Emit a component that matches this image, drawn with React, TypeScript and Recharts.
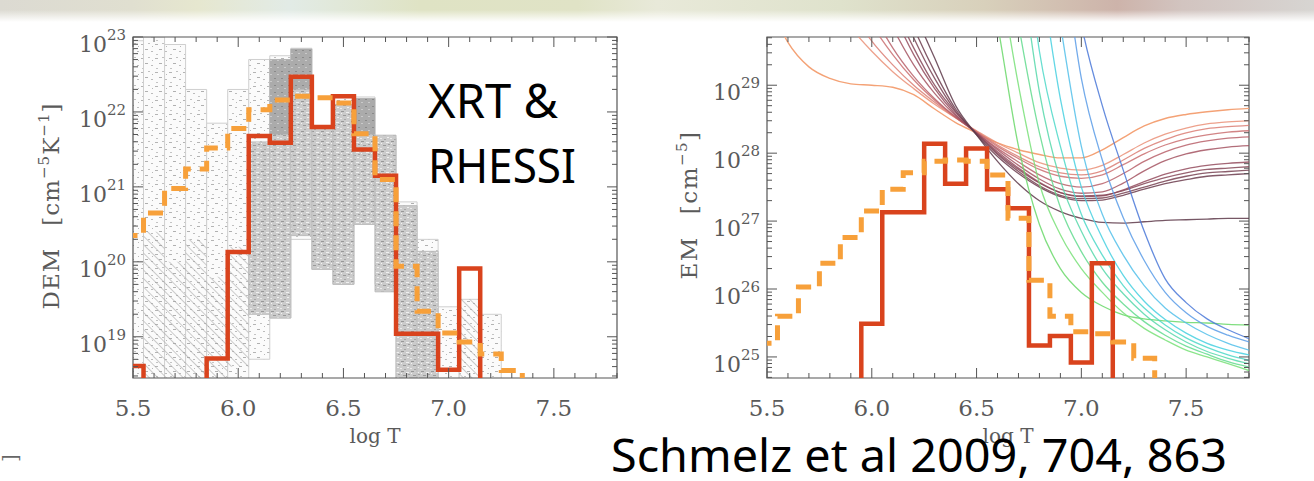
import React from 'react';
import { ComposedChart, Line, XAxis, YAxis, ReferenceArea } from 'recharts';

// log T bin centres, 0.1 dex wide
const binT = [5.5, 5.6, 5.7, 5.8, 5.9, 6.0, 6.1, 6.2, 6.3, 6.4, 6.5, 6.6, 6.7, 6.8, 6.9, 7.0, 7.1, 7.2, 7.3, 7.4, 7.5, 7.6, 7.7];

// left panel: log10 DEM [cm^-5 K^-1]
const demRed = [18.61, 17, 17, 17, 18.71, 20.13, 21.68, 21.59, 22.47, 21.8, 22.21, 21.5, 21.15, 19.04, 19.04, 18.56, 19.91, 17, 17, 17, 17, 17, 17];
const demOrange = [20.35, 20.65, 20.98, 21.24, 21.52, 21.78, 22.03, 22.16, 22.21, 22.19, 22.12, 21.71, 21.1, 19.94, 19.34, 19.05, 18.93, 18.77, 18.55, 17, 17, 17, 17];

// Monte Carlo spread (log10), null = nothing in that bin
const lightLo = [18.4, 18.4, 18.4, 18.4, 18.4, 18.4, 18.7, 19.25, 20.3, 19.9, 19.7, 20.5, 19.7, 18.4, 18.4, 18.4, 18.4, 18.4, null, null, null, null, null];
const lightHi = [22.95, 23.0, 22.9, 22.3, 21.85, 22.3, 22.7, 22.75, 22.85, 21.8, 22.2, 22.2, 21.65, 20.8, 20.3, 19.4, 19.5, 19.3, null, null, null, null, null];
const denseLo = [null, null, null, null, null, null, 19.3, 19.25, 20.35, 19.9, 19.7, 20.5, 19.6, 18.4, 18.4, null, null, null, null, null, null, null, null];
const denseHi = [null, null, null, null, null, null, 21.6, 22.7, 22.84, 21.8, 22.1, 22.18, 21.69, 20.75, 20.14, null, null, null, null, null, null, null, null];
const darkLo = [null, null, null, null, null, null, null, 21.7, 22.3, null, null, 21.7, null, null, null, null, null, null, null, null, null, null, null];
const darkHi = [null, null, null, null, null, null, null, 22.7, 22.84, null, null, 22.18, null, null, null, null, null, null, null, null, null, null, null];
const hatchLo = [null, 18.4, 18.4, 18.4, 18.4, 18.6, 19.4, 19.3, null, null, null, null, null, null, null, null, 18.4, null, null, null, null, null, null];
const hatchHi = [null, 20.4, 20.0, 20.3, 19.8, 20.2, 21.2, 21.0, null, null, null, null, null, null, null, null, 19.5, null, null, null, null, null, null];

// right panel: log10 EM [cm^-5]
const emRed = [23, 23, 23, 23, 23, 25.49, 27.13, 27.13, 28.14, 27.55, 28.07, 27.47, 27.19, 25.17, 25.31, 24.92, 26.38, 23, 23, 23, 23, 23, 23];
const emOrange = [25.2, 25.6, 26.03, 26.38, 26.76, 27.15, 27.47, 27.71, 27.88, 27.9, 27.88, 27.68, 27.04, 26.13, 25.6, 25.37, 25.34, 25.22, 24.98, 23, 23, 23, 23];

// XRT EM loci (log10)
const xrtGridA = [5.5, 5.6, 5.7, 5.8, 5.9, 6.0, 6.1, 6.2, 6.3, 6.4, 6.5, 6.6, 6.7, 6.8, 6.9, 7.0, 7.1, 7.2, 7.3, 7.4, 7.5, 7.6, 7.7, 7.8];
const xrtA = [30.3, 29.63, 29.27, 29.1, 29.02, 29.0, 28.97, 28.86, 28.65, 28.45, 28.3, 28.15, 28.05, 27.98, 27.93, 27.93, 28.05, 28.23, 28.4, 28.51, 28.57, 28.61, 28.64, 28.66];
const xrtGrid = [5.8, 5.9, 6.0, 6.1, 6.2, 6.3, 6.4, 6.5, 6.6, 6.7, 6.8, 6.9, 7.0, 7.1, 7.2, 7.3, 7.4, 7.5, 7.6, 7.7, 7.8];
const xrt1 = [30.3, 29.85, 29.5, 29.2, 28.95, 28.72, 28.52, 28.33, 28.15, 28.0, 27.86, 27.78, 27.75, 27.82, 27.98, 28.15, 28.28, 28.37, 28.43, 28.46, 28.48];
const xrt2 = [30.7, 30.1, 29.65, 29.3, 29.0, 28.75, 28.52, 28.32, 28.12, 27.95, 27.8, 27.71, 27.68, 27.74, 27.9, 28.07, 28.2, 28.3, 28.36, 28.39, 28.41];
const xrt3 = [31.2, 30.5, 29.9, 29.45, 29.08, 28.78, 28.53, 28.31, 28.1, 27.92, 27.76, 27.66, 27.63, 27.68, 27.83, 27.99, 28.12, 28.21, 28.27, 28.31, 28.33];
const xrt4 = [31.6, 30.8, 30.1, 29.55, 29.13, 28.8, 28.53, 28.3, 28.07, 27.87, 27.68, 27.55, 27.5, 27.55, 27.7, 27.88, 28.02, 28.12, 28.18, 28.22, 28.24];
const xrt5 = [32, 31.2, 30.5, 29.85, 29.3, 28.88, 28.55, 28.3, 28.05, 27.82, 27.62, 27.47, 27.41, 27.43, 27.56, 27.74, 27.89, 27.99, 28.05, 28.09, 28.11];
const xrt6 = [32.4, 31.6, 30.9, 30.1, 29.45, 28.95, 28.57, 28.29, 28.02, 27.78, 27.57, 27.42, 27.36, 27.37, 27.46, 27.58, 27.69, 27.77, 27.82, 27.85, 27.87];
const xrt7 = [32.6, 31.8, 31.0, 30.2, 29.55, 29.0, 28.6, 28.29, 28.0, 27.76, 27.56, 27.42, 27.37, 27.38, 27.45, 27.55, 27.64, 27.71, 27.76, 27.78, 27.8];
const xrt8 = [32.8, 32.0, 31.2, 30.4, 29.7, 29.1, 28.62, 28.28, 27.98, 27.73, 27.52, 27.38, 27.33, 27.34, 27.41, 27.5, 27.59, 27.66, 27.71, 27.73, 27.75];
const xrt9 = [33, 32.2, 31.4, 30.6, 29.85, 29.2, 28.65, 28.27, 27.95, 27.7, 27.5, 27.36, 27.3, 27.31, 27.38, 27.47, 27.55, 27.61, 27.66, 27.68, 27.7];
const xrt10 = [33.2, 32.4, 31.6, 30.9, 30.1, 29.4, 28.7, 28.27, 27.88, 27.55, 27.3, 27.14, 27.04, 26.98, 26.97, 26.99, 27.01, 27.02, 27.03, 27.04, 27.04];

// RHESSI EM loci (log10)
const rhGrid = [6.5, 6.6, 6.7, 6.8, 6.9, 7.0, 7.1, 7.2, 7.3, 7.4, 7.5, 7.6, 7.7, 7.8];
const rh0 = [31.5, 29.9, 28.1, 26.95, 26.3, 25.95, 25.75, 25.62, 25.56, 25.53, 25.51, 25.5, 25.48, 25.47];
const rh1 = [32.5, 30.8, 29.0, 27.55, 26.8, 26.3, 25.95, 25.65, 25.42, 25.25, 25.1, 25.0, 24.9, 24.8];
const rh2 = [33.5, 31.8, 29.9, 28.3, 27.2, 26.55, 26.1, 25.78, 25.52, 25.32, 25.16, 25.04, 24.93, 24.85];
const rh3 = [34, 32.8, 31.0, 28.9, 27.6, 26.85, 26.3, 25.93, 25.63, 25.4, 25.22, 25.08, 24.98, 24.9];
const rh4 = [34.5, 33.5, 32, 29.5, 28.1, 27.1, 26.5, 26.05, 25.72, 25.47, 25.28, 25.14, 25.03, 24.95];
const rh5 = [35, 34, 33, 30.8, 28.8, 27.5, 26.75, 26.2, 25.82, 25.55, 25.35, 25.2, 25.1, 25.03];
const rh6 = [35.5, 34.5, 33.5, 32, 29.9, 28.1, 27.1, 26.5, 26.05, 25.72, 25.5, 25.33, 25.2, 25.1];
const rh7 = [36, 35, 34, 33, 31.2, 29.1, 27.9, 27.05, 26.42, 25.95, 25.65, 25.45, 25.32, 25.22];
const rh8 = [36.5, 35.5, 34.5, 33.5, 31.8, 29.9, 28.7, 27.75, 26.85, 26.15, 25.8, 25.56, 25.4, 25.27];

const xMajor = [5.5, 6.0, 6.5, 7.0, 7.5];
const xTicks = [5.5, 5.6, 5.7, 5.8, 5.9, 6.0, 6.1, 6.2, 6.3, 6.4, 6.5, 6.6, 6.7, 6.8, 6.9, 7.0, 7.1, 7.2, 7.3, 7.4, 7.5, 7.6, 7.7, 7.8];
const demRange = [18.45, 23.0];
const emRange = [24.69, 29.71];

const AXIS = '#555';
const LABEL = '#5a5a5a';
const SERIF = '"DejaVu Serif", "Liberation Serif", serif';
const SANS = '"Noto Sans", "Open Sans", sans-serif';
const RED = '#d9431d';
const ORANGE = '#f7a03a';

const xrtSet = [
  { vals: xrt1, color: '#ea9078' }, { vals: xrt2, color: '#da7e74' }, { vals: xrt3, color: '#ca6e70' },
  { vals: xrt4, color: '#b8606a' }, { vals: xrt5, color: '#a45462' }, { vals: xrt6, color: '#944c5e' },
  { vals: xrt7, color: '#864858' }, { vals: xrt8, color: '#784252' }, { vals: xrt9, color: '#6c3c4e' },
  { vals: xrt10, color: '#5e3a4a' },
];
const rhSet = [
  { vals: rh0, color: '#6ad86a' }, { vals: rh1, color: '#78e078' }, { vals: rh2, color: '#62da8e' },
  { vals: rh3, color: '#56d8aa' }, { vals: rh4, color: '#4cd8c8' }, { vals: rh5, color: '#46d0e0' },
  { vals: rh6, color: '#52c0ea' }, { vals: rh7, color: '#5a9ce8' }, { vals: rh8, color: '#4a78d8' },
];

const pow = (v: number) => Math.pow(10, v);

const toSteps = (vals: number[]) => {
  const pts = binT.map((t, i) => ({ t: t - 0.05, v: pow(vals[i]) }));
  pts.push({ t: binT[binT.length - 1] + 0.05, v: pow(vals[vals.length - 1]) });
  return pts;
};
const toCurve = (grid: number[], vals: number[]) => grid.map((t, i) => ({ t, v: pow(vals[i]) }));

const logTicks = (lo: number, hi: number) => {
  const out: number[] = [];
  for (let e = Math.floor(lo); e <= Math.ceil(hi); e++) {
    for (let m = 1; m < 10; m++) {
      const l = e + Math.log10(m);
      if (l >= lo - 1e-9 && l <= hi + 1e-9) out.push(m * Math.pow(10, e));
    }
  }
  return out;
};

const XTick = (props: any) => {
  const { x, payload, plotT, plotB } = props;
  const v = payload.value;
  const major = xMajor.some((m) => Math.abs(m - v) < 1e-6);
  const len = major ? 10 : 5;
  return (
    <g>
      <line x1={x} x2={x} y1={plotB} y2={plotB - len} stroke={AXIS} strokeWidth={1} />
      <line x1={x} x2={x} y1={plotT} y2={plotT + len} stroke={AXIS} strokeWidth={1} />
      {major && (
        <text x={x} y={plotB + 38} textAnchor="middle" fontFamily={SERIF} fontSize={23} fill={LABEL}>
          {v.toFixed(1)}
        </text>
      )}
    </g>
  );
};

const YTick = (props: any) => {
  const { y, payload, plotL, plotR } = props;
  const e = Math.log10(payload.value);
  const major = Math.abs(e - Math.round(e)) < 1e-6;
  const len = major ? 10 : 5;
  return (
    <g>
      <line x1={plotL} x2={plotL + len} y1={y} y2={y} stroke={AXIS} strokeWidth={1} />
      <line x1={plotR} x2={plotR - len} y1={y} y2={y} stroke={AXIS} strokeWidth={1} />
      {major && (
        <text x={plotL - 7} y={y + 15} textAnchor="end" fontFamily={SERIF} fontSize={22} fill={LABEL}>
          10<tspan dy={-12} fontSize={15}>{Math.round(e)}</tspan>
        </text>
      )}
    </g>
  );
};

const shade = (lo: (number | null)[], hi: (number | null)[], fill: string, stroke: string, key: string) =>
  binT.map((t, i) => {
    const a = lo[i];
    const b = hi[i];
    if (a == null || b == null) return null;
    return (
      <ReferenceArea
        key={key + i}
        x1={t - 0.05}
        x2={t + 0.05}
        y1={pow(a)}
        y2={pow(b)}
        fill={fill}
        fillOpacity={1}
        stroke={stroke}
        strokeWidth={1}
        ifOverflow="hidden"
      />
    );
  });

function DemPanel() {
  const plotT = 37, plotB = 378, plotL = 133, plotR = 617;
  return (
    <ComposedChart width={640} height={481} margin={{ top: plotT, right: 640 - plotR, bottom: 481 - plotB - 30, left: plotL - 60 }}>
      <XAxis type="number" dataKey="t" domain={[5.5, 7.8]} allowDataOverflow ticks={xTicks} interval={0}
        tickLine={false} axisLine={false} height={30} tick={<XTick plotT={plotT} plotB={plotB} />} />
      <YAxis type="number" scale="log" domain={[pow(demRange[0]), pow(demRange[1])]} allowDataOverflow
        ticks={logTicks(demRange[0], demRange[1])} interval={0} tickLine={false} axisLine={false} width={60}
        tick={<YTick plotL={plotL} plotR={plotR} />} />
      {shade(lightLo, lightHi, 'url(#speck)', '#cfcfcf', 'l')}
      {shade(hatchLo, hatchHi, 'url(#hatch)', 'none', 'h')}
      {shade(denseLo, denseHi, 'url(#dense)', '#bdbdbd', 'd')}
      {shade(darkLo, darkHi, 'url(#dark)', 'none', 'k')}
      <Line data={toSteps(demRed)} dataKey="v" type="stepAfter" stroke={RED} strokeWidth={4.5}
        dot={false} activeDot={false} isAnimationActive={false} />
      <Line data={toSteps(demOrange)} dataKey="v" type="stepAfter" stroke={ORANGE} strokeWidth={5}
        strokeDasharray="15 9" dot={false} activeDot={false} isAnimationActive={false} />
      <ReferenceArea x1={5.5} x2={7.8} y1={pow(demRange[0])} y2={pow(demRange[1])} fill="none"
        stroke={AXIS} strokeWidth={1.2} ifOverflow="visible" />
    </ComposedChart>
  );
}

function EmPanel() {
  const plotT = 37, plotB = 378, plotL = 127, plotR = 609;
  return (
    <ComposedChart width={674} height={481} margin={{ top: plotT, right: 674 - plotR, bottom: 481 - plotB - 30, left: plotL - 60 }}>
      <XAxis type="number" dataKey="t" domain={[5.5, 7.8]} allowDataOverflow ticks={xTicks} interval={0}
        tickLine={false} axisLine={false} height={30} tick={<XTick plotT={plotT} plotB={plotB} />} />
      <YAxis type="number" scale="log" domain={[pow(emRange[0]), pow(emRange[1])]} allowDataOverflow
        ticks={logTicks(emRange[0], emRange[1])} interval={0} tickLine={false} axisLine={false} width={60}
        tick={<YTick plotL={plotL} plotR={plotR} />} />
      <Line data={toCurve(xrtGridA, xrtA)} dataKey="v" type="monotone" stroke="#f4a276" strokeWidth={1.4}
        dot={false} activeDot={false} isAnimationActive={false} />
      {xrtSet.map((c, i) => (
        <Line key={'x' + i} data={toCurve(xrtGrid, c.vals)} dataKey="v" type="monotone" stroke={c.color}
          strokeWidth={1.3} strokeOpacity={0.85} dot={false} activeDot={false} isAnimationActive={false} />
      ))}
      {rhSet.map((c, i) => (
        <Line key={'r' + i} data={toCurve(rhGrid, c.vals)} dataKey="v" type="monotone" stroke={c.color}
          strokeWidth={1.3} strokeOpacity={0.85} dot={false} activeDot={false} isAnimationActive={false} />
      ))}
      <Line data={toSteps(emRed)} dataKey="v" type="stepAfter" stroke={RED} strokeWidth={4.5}
        dot={false} activeDot={false} isAnimationActive={false} />
      <Line data={toSteps(emOrange)} dataKey="v" type="stepAfter" stroke={ORANGE} strokeWidth={5}
        strokeDasharray="15 9" dot={false} activeDot={false} isAnimationActive={false} />
      <ReferenceArea x1={5.5} x2={7.8} y1={pow(emRange[0])} y2={pow(emRange[1])} fill="none"
        stroke={AXIS} strokeWidth={1.2} ifOverflow="visible" />
    </ComposedChart>
  );
}

export default function App() {
  return (
    <div style={{ position: 'absolute', left: 0, top: 0, width: 1314, height: 481, background: '#fff', overflow: 'hidden' }}>
      <svg width={0} height={0} style={{ position: 'absolute' }}>
        <defs>
          <pattern id="speck" patternUnits="userSpaceOnUse" width={14} height={14}>
            <rect width={14} height={14} fill="#fbfbfb" />
            <rect x={1} y={2} width={3} height={1} fill="#b4b4b4" />
            <rect x={8} y={1} width={2} height={1} fill="#c0c0c0" />
            <rect x={5} y={7} width={3} height={1} fill="#b0b0b0" />
            <rect x={11} y={9} width={2} height={1} fill="#bcbcbc" />
            <rect x={2} y={12} width={2} height={1} fill="#c4c4c4" />
            <rect x={12} y={4} width={1} height={1} fill="#b8b8b8" />
          </pattern>
          <pattern id="dense" patternUnits="userSpaceOnUse" width={10} height={10}>
            <rect width={10} height={10} fill="#cbcbcb" />
            <rect x={1} y={1} width={3} height={1} fill="#979797" />
            <rect x={6} y={2} width={3} height={1} fill="#f0f0f0" />
            <rect x={3} y={5} width={3} height={1} fill="#9a9a9a" />
            <rect x={7} y={7} width={2} height={1} fill="#efefef" />
            <rect x={0} y={8} width={2} height={1} fill="#eaeaea" />
            <rect x={8} y={4} width={2} height={1} fill="#a0a0a0" />
            <rect x={4} y={9} width={2} height={1} fill="#a6a6a6" />
            <rect x={1} y={3} width={1} height={1} fill="#f2f2f2" />
          </pattern>
          <pattern id="dark" patternUnits="userSpaceOnUse" width={7} height={7}>
            <rect width={7} height={7} fill="#ababab" />
            <rect x={1} y={1} width={2} height={1} fill="#8a8a8a" />
            <rect x={4} y={4} width={2} height={1} fill="#cacaca" />
          </pattern>
          <pattern id="hatch" patternUnits="userSpaceOnUse" width={6} height={6} patternTransform="rotate(-45)">
            <line x1={0} y1={0} x2={0} y2={6} stroke="#a2a2a2" strokeWidth={1.1} />
          </pattern>
        </defs>
      </svg>
      <div style={{
        position: 'absolute', left: 0, top: 0, width: 1314, height: 22,
        background: 'linear-gradient(to bottom, rgba(255,255,255,0) 0%, rgba(255,255,255,0) 45%, #fff 100%), linear-gradient(to right, #dcdad2 0%, #e0dfd0 10%, #e6e7cf 15%, #e2ebe6 22%, #dfe3c4 32%, #e0e3c6 44%, #e8e9d9 50%, #dfe2cc 64%, #d8d0bb 75%, #cdb3aa 85%, #d2c4c0 90%, #d7d5d2 100%)',
      }} />
      <div style={{ position: 'absolute', left: 0, top: 0 }}>
        <DemPanel />
      </div>
      <div style={{ position: 'absolute', left: 640, top: 0 }}>
        <EmPanel />
      </div>
      <svg width={1314} height={481} style={{ position: 'absolute', left: 0, top: 0, pointerEvents: 'none' }}>
        <text x={59} y={206} transform="rotate(-90 59 206)" textAnchor="middle" fontFamily={SERIF} fontSize={23}
          fill={LABEL} letterSpacing={1}>
          DEM<tspan dx={22}>[cm</tspan><tspan dy={-10} fontSize={15}>−5</tspan><tspan dy={10}>K</tspan>
          <tspan dy={-10} fontSize={15}>−1</tspan><tspan dy={10}>]</tspan>
        </text>
        <text x={697} y={205} transform="rotate(-90 697 205)" textAnchor="middle" fontFamily={SERIF} fontSize={23}
          fill={LABEL} letterSpacing={1.5}>
          EM<tspan dx={22}>[cm</tspan><tspan dy={-10} fontSize={15}>−5</tspan><tspan dy={10}>]</tspan>
        </text>
        <text x={375} y={443} textAnchor="middle" fontFamily={SERIF} fontSize={20} fill={LABEL}>log  T</text>
        <text x={1008} y={443} textAnchor="middle" fontFamily={SERIF} fontSize={20} fill={LABEL}>log  T</text>
        <text x={17} y={462} transform="rotate(-90 17 462)" fontFamily={SERIF} fontSize={20} fill="#666">]</text>
        <text x={428} y={118} fontFamily={SANS} fontSize={48} fill="#000" textLength={130} lengthAdjust="spacingAndGlyphs">XRT &amp;</text>
        <text x={428} y={183} fontFamily={SANS} fontSize={48} fill="#000" textLength={148} lengthAdjust="spacingAndGlyphs">RHESSI</text>
        <text x={611} y={472} fontFamily={SANS} fontSize={46} fill="#000" textLength={616} lengthAdjust="spacingAndGlyphs">Schmelz et al 2009, 704, 863</text>
      </svg>
    </div>
  );
}
